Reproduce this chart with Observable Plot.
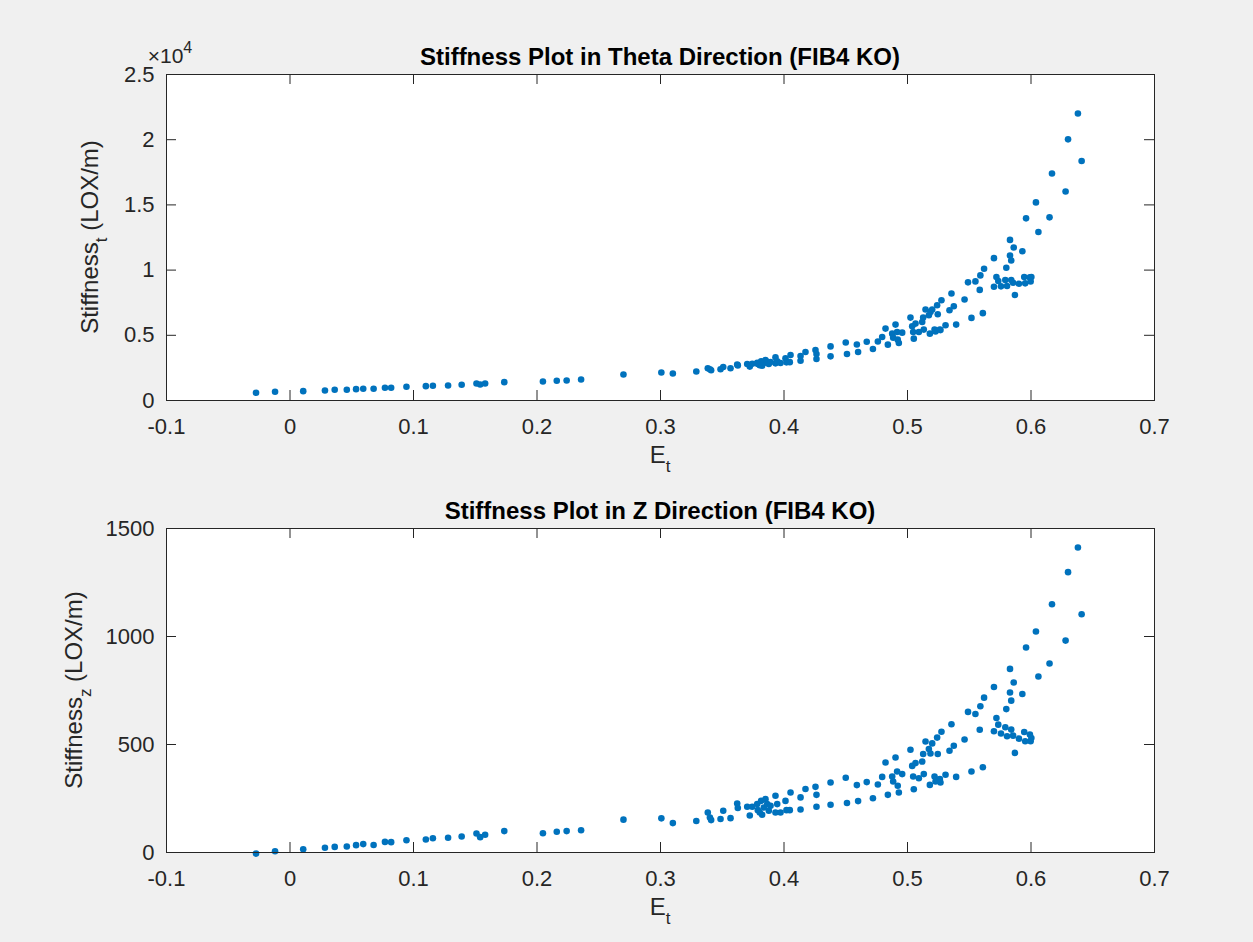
<!DOCTYPE html>
<html><head><meta charset="utf-8">
<script src="https://cdn.jsdelivr.net/npm/d3@7"></script>
<script src="https://cdn.jsdelivr.net/npm/@observablehq/plot@0.6"></script>
<style>
html,body{margin:0;padding:0;background:#f0f0f0;}
#fig{width:1253px;height:942px;background:#f0f0f0;overflow:hidden;}
#fig svg{display:block;}
</style></head><body><div id="fig"></div>
<script>
// ---- data ----
const et = [-0.0275,-0.0121,0.0107,0.0283,0.0362,0.046,0.0535,0.0593,0.0677,0.0769,0.0819,0.0943,0.110,0.1157,0.128,0.139,0.151,0.154,0.158,0.1735,0.2048,0.216,0.224,0.2357,0.270,0.3007,0.310,0.329,
0.3383,0.340,0.341,0.3486,0.3508,0.3567,0.3621,0.3626,0.3702,0.3723,0.3743,0.3783,0.3788,0.3804,0.3815,0.3823,0.3837,0.3850,0.3864,0.3877,0.3891,0.3931,0.3931,0.3945,0.3972,0.4012,0.4020,0.4047,0.4053,0.4134,0.4134,0.4174,0.4255,0.4263,0.4263,0.4377,0.4377,
0.450,0.451,0.459,0.460,0.467,0.472,0.476,0.4795,0.4822,0.4841,0.4876,0.4884,0.4903,0.4916,0.4921,0.4930,0.4957,0.5024,0.5038,0.5046,0.5051,0.5065,0.5092,0.5119,0.5127,0.5132,0.5146,0.5173,0.5181,0.5186,0.5200,0.5219,0.5227,0.5240,0.5245,0.5262,0.5267,0.5275,0.5308,0.5340,0.5356,0.5375,0.5394,0.5462,0.5490,0.5518,0.5550,0.5585,0.5590,0.5610,0.5620,
0.5700,0.5700,0.5720,0.5735,0.5757,0.5792,0.5800,0.5806,0.5830,0.5830,0.5840,0.5840,0.5855,0.5860,0.5870,0.5902,0.5930,0.5945,0.5953,0.5960,0.5991,0.5997,0.6003,0.6040,0.6060,0.6150,0.6170,0.6280,0.6300,0.6380,0.6410];
const stiffT = [589,666,717,768,819,819,870,896,896,973,973,1050,1101,1126,1152,1203,1306,1229,1306,1408,1459,1510,1536,1613,1997,2150,2074,2227,
2468,2400,2315,2392,2570,2468,2760,2690,2800,2600,2824,2900,2800,2700,3000,2670,2880,3100,2960,2800,2950,3308,2850,3000,2875,3231,2926,2940,3486,3410,3053,3715,3868,3562,3180,4148,3384,
4453,3562,4300,3715,4504,3944,4529,4870,5513,4282,5128,4821,5821,5256,4667,4410,5205,6359,5692,5256,4743,5897,5256,6025,6359,5436,6974,6538,5128,6795,6974,5436,5300,7308,6615,5436,5400,7692,5769,6923,8205,7231,5821,7744,9059,6333,9135,8480,9593,6700,10102,
10916,8728,9466,9160,8753,9237,10178,8779,11120,12316,10738,9237,9033,11730,8092,8957,11450,9466,8982,13970,9440,9135,9466,15191,12926,14046,17405,16030,20025,22010,18372];
const stiffZ = [-5,6,15,22,26,28,34,39,35,49,48,57,60,66,68,74,88,71,82,99,89,96,99,103,152,158,136,146,
185,162,150,155,193,159,227,206,212,171,212,224,196,185,239,175,208,247,224,193,216,263,185,224,185,239,196,196,278,255,199,294,304,267,212,324,221,
346,229,312,238,326,251,315,350,417,267,352,329,440,375,309,278,363,476,401,352,293,414,344,421,456,363,514,479,313,458,505,352,329,532,456,340,324,559,360,471,594,494,350,523,651,375,641,568,677,395,717,
766,561,623,592,551,580,664,538,741,850,703,569,541,787,461,527,734,558,515,949,546,515,530,1023,815,875,1149,981,1298,1412,1103];

const xTicks = [-0.1,0,0.1,0.2,0.3,0.4,0.5,0.6,0.7];
const xTickLabels = ["-0.1","0","0.1","0.2","0.3","0.4","0.5","0.6","0.7"];
const yTicksT = [0,5000,10000,15000,20000,25000];
const yTickLabelsT = ["0","0.5","1","1.5","2","2.5"];
const yTicksZ = [0,500,1000,1500];
const yTickLabelsZ = ["0","500","1000","1500"];
const titles = ["Stiffness Plot in Theta Direction (FIB4 KO)","Stiffness Plot in Z Direction (FIB4 KO)"];
const yLabelParts = [["Stiffness","t"," (LOX/m)"],["Stiffness","z"," (LOX/m)"]];
const xLabelParts = ["E","t"];
const exponentParts = ["\u00d710","4"];

const rows = et.map((e,i)=>({et:e, t:stiffT[i], z:stiffZ[i]}));
const FONT = "'Liberation Sans', Arial, Helvetica, sans-serif";
const INK = "#262626";
const W = 1253, ML = 166, MR = 99;

function panel({yKey, yDomain, yTicks, yLabels, height, mt, mb}) {
  const innerW = W - ML - MR, innerH = height - mt - mb, tl = 10;
  const fmtX = d => xTickLabels[xTicks.indexOf(d)];
  const fmtY = d => yLabels[yTicks.indexOf(d)];
  return Plot.plot({
    width: W, height, marginLeft: ML, marginRight: MR, marginTop: mt, marginBottom: mb,
    style: {background: "transparent", fontFamily: FONT, fontSize: "22px", color: INK, overflow: "visible"},
    x: {domain: [-0.1, 0.7]},
    y: {domain: yDomain},
    marks: [
      Plot.frame({fill: "white", stroke: null}),
      Plot.dot(rows, {x: "et", y: yKey, r: 3.3, fill: "#0072BD", stroke: null}),
      Plot.ruleX(xTicks, {x: d => d, insetTop: innerH - tl, stroke: INK}),
      Plot.ruleX(xTicks, {x: d => d, insetBottom: innerH - tl, stroke: INK}),
      Plot.ruleY(yTicks, {y: d => d, insetRight: innerW - tl, stroke: INK}),
      Plot.ruleY(yTicks, {y: d => d, insetLeft: innerW - tl, stroke: INK}),
      Plot.frame({stroke: INK, strokeWidth: 1}),
      Plot.axisX({ticks: xTicks, tickFormat: fmtX, tickSize: 0, tickPadding: 18, label: null, fill: INK}),
      Plot.axisY({ticks: yTicks, tickFormat: fmtY, tickSize: 0, tickPadding: 12, label: null, fill: INK})
    ]
  });
}

function decorate(svg, i, {mt, innerH, ylx}) {
  const s = d3.select(svg);
  const cx = ML + (W - ML - MR) / 2;
  s.append("text").attr("x", cx).attr("y", mt - 9).attr("text-anchor", "middle")
    .attr("font-family", FONT).attr("font-size", 24).attr("font-weight", "bold").attr("fill", "#000")
    .text(titles[i]);
  const xl = s.append("text").attr("x", cx).attr("y", mt + innerH + 63).attr("text-anchor", "middle")
    .attr("font-family", FONT).attr("font-size", 24).attr("fill", INK);
  xl.append("tspan").text(xLabelParts[0]);
  xl.append("tspan").attr("dy", 9).attr("font-size", 17).text(xLabelParts[1]);
  const yl = s.append("text").attr("transform", `translate(${ylx},${mt + innerH / 2}) rotate(-90)`)
    .attr("text-anchor", "middle").attr("font-family", FONT).attr("font-size", 24).attr("fill", INK);
  yl.append("tspan").text(yLabelParts[i][0]);
  yl.append("tspan").attr("dy", 9).attr("font-size", 17).text(yLabelParts[i][1]);
  yl.append("tspan").attr("dy", -9).text(yLabelParts[i][2]);
}

const fig = document.getElementById("fig");
const topPanel = panel({yKey: "t", yDomain: [0, 25000], yTicks: yTicksT, yLabels: yTickLabelsT, height: 471, mt: 74, mb: 71});
decorate(topPanel, 0, {mt: 74, innerH: 326, ylx: 98});
{
  const ex = d3.select(topPanel).append("text").attr("x", 170).attr("y", 63)
    .attr("font-family", FONT).attr("font-size", 21).attr("fill", INK);
  ex.append("tspan").text(exponentParts[0]);
  ex.append("tspan").attr("dy", -10).attr("font-size", 16).text(exponentParts[1]);
}
fig.appendChild(topPanel);
const botPanel = panel({yKey: "z", yDomain: [0, 1500], yTicks: yTicksZ, yLabels: yTickLabelsZ, height: 471, mt: 57, mb: 90});
decorate(botPanel, 1, {mt: 57, innerH: 324, ylx: 82});
fig.appendChild(botPanel);
</script></body></html>
